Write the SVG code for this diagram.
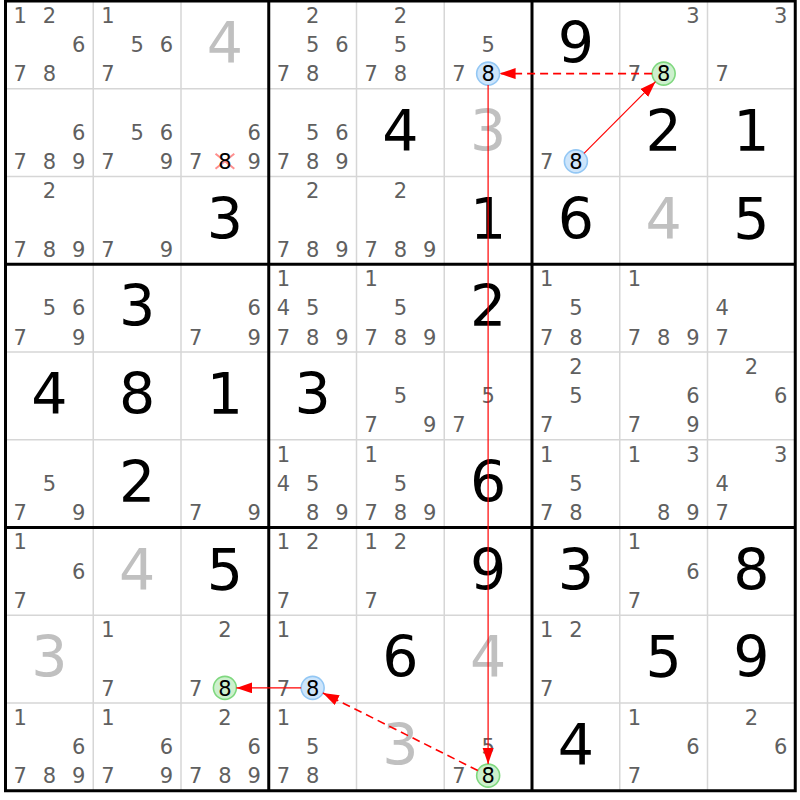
<svg xmlns="http://www.w3.org/2000/svg" width="800" height="800" viewBox="0 0 800 800">
<style>
text{font-family:"DejaVu Sans","Liberation Sans",sans-serif;text-anchor:middle}
.c{font-size:21px;fill:#606060}
.h{font-size:21px;fill:#000}
.g{font-size:57px;fill:#000}
.gg{font-size:57px;fill:#c0c0c0}
.thin{stroke:#d6d6d6;stroke-width:1.5}
.thick{stroke:#000;stroke-width:3}
.hb{fill:#cde5fb;stroke:#93c7f4;stroke-width:1.6}
.hg{fill:#cdf0cd;stroke:#7fd87f;stroke-width:1.6}
.lk{stroke:#ff0000;fill:none}
.sol{stroke-width:1.2}
.das{stroke-width:1.6;stroke-dasharray:8 5}
</style>
<defs>
<marker id="ah" markerUnits="userSpaceOnUse" markerWidth="17" markerHeight="12" refX="16" refY="5.5" orient="auto">
<path d="M0,0 L16,5.5 L0,11 z" fill="#ff0000"/>
</marker>
</defs>
<rect x="0" y="0" width="800" height="800" fill="#fff"/>
<g id="grid-thin">
<path class="thin" d="M93.25,1V790.75M181,1V790.75M356.5,1V790.75M444.25,1V790.75M619.75,1V790.75M707.5,1V790.75M5.5,88.75H795.25M5.5,176.5H795.25M5.5,352H795.25M5.5,439.75H795.25M5.5,615.25H795.25M5.5,703H795.25"/>
</g>
<g id="r0c0" transform="translate(5.5,1)"><text class="c" x="14.6" y="21.8">1</text><text class="c" x="43.9" y="21.8">2</text><text class="c" x="73.1" y="51.1">6</text><text class="c" x="14.6" y="80.3">7</text><text class="c" x="43.9" y="80.3">8</text></g>
<g id="r0c1" transform="translate(93.25,1)"><text class="c" x="14.6" y="21.8">1</text><text class="c" x="43.9" y="51.1">5</text><text class="c" x="73.1" y="51.1">6</text><text class="c" x="14.6" y="80.3">7</text></g>
<g id="r0c2" transform="translate(181,1)"><text class="gg" x="43.9" y="62">4</text></g>
<g id="r0c3" transform="translate(268.75,1)"><text class="c" x="43.9" y="21.8">2</text><text class="c" x="43.9" y="51.1">5</text><text class="c" x="73.1" y="51.1">6</text><text class="c" x="14.6" y="80.3">7</text><text class="c" x="43.9" y="80.3">8</text></g>
<g id="r0c4" transform="translate(356.5,1)"><text class="c" x="43.9" y="21.8">2</text><text class="c" x="43.9" y="51.1">5</text><text class="c" x="14.6" y="80.3">7</text><text class="c" x="43.9" y="80.3">8</text></g>
<g id="r0c5" transform="translate(444.25,1)"><text class="c" x="43.9" y="51.1">5</text><text class="c" x="14.6" y="80.3">7</text><circle class="hb" cx="43.9" cy="72.6" r="11.5"/><text class="h" x="43.9" y="80.3">8</text></g>
<g id="r0c6" transform="translate(532,1)"><text class="g" x="43.9" y="62">9</text></g>
<g id="r0c7" transform="translate(619.75,1)"><text class="c" x="73.1" y="21.8">3</text><text class="c" x="14.6" y="80.3">7</text><circle class="hg" cx="43.9" cy="72.6" r="11.5"/><text class="h" x="43.9" y="80.3">8</text></g>
<g id="r0c8" transform="translate(707.5,1)"><text class="c" x="73.1" y="21.8">3</text><text class="c" x="14.6" y="80.3">7</text></g>

<g id="r1c0" transform="translate(5.5,88.75)"><text class="c" x="73.1" y="51.1">6</text><text class="c" x="14.6" y="80.3">7</text><text class="c" x="43.9" y="80.3">8</text><text class="c" x="73.1" y="80.3">9</text></g>
<g id="r1c1" transform="translate(93.25,88.75)"><text class="c" x="43.9" y="51.1">5</text><text class="c" x="73.1" y="51.1">6</text><text class="c" x="14.6" y="80.3">7</text><text class="c" x="73.1" y="80.3">9</text></g>
<g id="r1c2" transform="translate(181,88.75)"><text class="c" x="73.1" y="51.1">6</text><text class="c" x="14.6" y="80.3">7</text><path d="M34.5,65 L53.3,80 M53.3,65 L34.5,80" stroke="#ff8f8f" stroke-width="2"/><text class="h" x="43.9" y="80.3">8</text><text class="c" x="73.1" y="80.3">9</text></g>
<g id="r1c3" transform="translate(268.75,88.75)"><text class="c" x="43.9" y="51.1">5</text><text class="c" x="73.1" y="51.1">6</text><text class="c" x="14.6" y="80.3">7</text><text class="c" x="43.9" y="80.3">8</text><text class="c" x="73.1" y="80.3">9</text></g>
<g id="r1c4" transform="translate(356.5,88.75)"><text class="g" x="43.9" y="62">4</text></g>
<g id="r1c5" transform="translate(444.25,88.75)"><text class="gg" x="43.9" y="62">3</text></g>
<g id="r1c6" transform="translate(532,88.75)"><text class="c" x="14.6" y="80.3">7</text><circle class="hb" cx="43.9" cy="72.6" r="11.5"/><text class="h" x="43.9" y="80.3">8</text></g>
<g id="r1c7" transform="translate(619.75,88.75)"><text class="g" x="43.9" y="62">2</text></g>
<g id="r1c8" transform="translate(707.5,88.75)"><text class="g" x="43.9" y="62">1</text></g>

<g id="r2c0" transform="translate(5.5,176.5)"><text class="c" x="43.9" y="21.8">2</text><text class="c" x="14.6" y="80.3">7</text><text class="c" x="43.9" y="80.3">8</text><text class="c" x="73.1" y="80.3">9</text></g>
<g id="r2c1" transform="translate(93.25,176.5)"><text class="c" x="14.6" y="80.3">7</text><text class="c" x="73.1" y="80.3">9</text></g>
<g id="r2c2" transform="translate(181,176.5)"><text class="g" x="43.9" y="62">3</text></g>
<g id="r2c3" transform="translate(268.75,176.5)"><text class="c" x="43.9" y="21.8">2</text><text class="c" x="14.6" y="80.3">7</text><text class="c" x="43.9" y="80.3">8</text><text class="c" x="73.1" y="80.3">9</text></g>
<g id="r2c4" transform="translate(356.5,176.5)"><text class="c" x="43.9" y="21.8">2</text><text class="c" x="14.6" y="80.3">7</text><text class="c" x="43.9" y="80.3">8</text><text class="c" x="73.1" y="80.3">9</text></g>
<g id="r2c5" transform="translate(444.25,176.5)"><text class="g" x="43.9" y="62">1</text></g>
<g id="r2c6" transform="translate(532,176.5)"><text class="g" x="43.9" y="62">6</text></g>
<g id="r2c7" transform="translate(619.75,176.5)"><text class="gg" x="43.9" y="62">4</text></g>
<g id="r2c8" transform="translate(707.5,176.5)"><text class="g" x="43.9" y="62">5</text></g>

<g id="r3c0" transform="translate(5.5,264.25)"><text class="c" x="43.9" y="51.1">5</text><text class="c" x="73.1" y="51.1">6</text><text class="c" x="14.6" y="80.3">7</text><text class="c" x="73.1" y="80.3">9</text></g>
<g id="r3c1" transform="translate(93.25,264.25)"><text class="g" x="43.9" y="62">3</text></g>
<g id="r3c2" transform="translate(181,264.25)"><text class="c" x="73.1" y="51.1">6</text><text class="c" x="14.6" y="80.3">7</text><text class="c" x="73.1" y="80.3">9</text></g>
<g id="r3c3" transform="translate(268.75,264.25)"><text class="c" x="14.6" y="21.8">1</text><text class="c" x="14.6" y="51.1">4</text><text class="c" x="43.9" y="51.1">5</text><text class="c" x="14.6" y="80.3">7</text><text class="c" x="43.9" y="80.3">8</text><text class="c" x="73.1" y="80.3">9</text></g>
<g id="r3c4" transform="translate(356.5,264.25)"><text class="c" x="14.6" y="21.8">1</text><text class="c" x="43.9" y="51.1">5</text><text class="c" x="14.6" y="80.3">7</text><text class="c" x="43.9" y="80.3">8</text><text class="c" x="73.1" y="80.3">9</text></g>
<g id="r3c5" transform="translate(444.25,264.25)"><text class="g" x="43.9" y="62">2</text></g>
<g id="r3c6" transform="translate(532,264.25)"><text class="c" x="14.6" y="21.8">1</text><text class="c" x="43.9" y="51.1">5</text><text class="c" x="14.6" y="80.3">7</text><text class="c" x="43.9" y="80.3">8</text></g>
<g id="r3c7" transform="translate(619.75,264.25)"><text class="c" x="14.6" y="21.8">1</text><text class="c" x="14.6" y="80.3">7</text><text class="c" x="43.9" y="80.3">8</text><text class="c" x="73.1" y="80.3">9</text></g>
<g id="r3c8" transform="translate(707.5,264.25)"><text class="c" x="14.6" y="51.1">4</text><text class="c" x="14.6" y="80.3">7</text></g>

<g id="r4c0" transform="translate(5.5,352)"><text class="g" x="43.9" y="62">4</text></g>
<g id="r4c1" transform="translate(93.25,352)"><text class="g" x="43.9" y="62">8</text></g>
<g id="r4c2" transform="translate(181,352)"><text class="g" x="43.9" y="62">1</text></g>
<g id="r4c3" transform="translate(268.75,352)"><text class="g" x="43.9" y="62">3</text></g>
<g id="r4c4" transform="translate(356.5,352)"><text class="c" x="43.9" y="51.1">5</text><text class="c" x="14.6" y="80.3">7</text><text class="c" x="73.1" y="80.3">9</text></g>
<g id="r4c5" transform="translate(444.25,352)"><text class="c" x="43.9" y="51.1">5</text><text class="c" x="14.6" y="80.3">7</text></g>
<g id="r4c6" transform="translate(532,352)"><text class="c" x="43.9" y="21.8">2</text><text class="c" x="43.9" y="51.1">5</text><text class="c" x="14.6" y="80.3">7</text></g>
<g id="r4c7" transform="translate(619.75,352)"><text class="c" x="73.1" y="51.1">6</text><text class="c" x="14.6" y="80.3">7</text><text class="c" x="73.1" y="80.3">9</text></g>
<g id="r4c8" transform="translate(707.5,352)"><text class="c" x="43.9" y="21.8">2</text><text class="c" x="73.1" y="51.1">6</text></g>

<g id="r5c0" transform="translate(5.5,439.75)"><text class="c" x="43.9" y="51.1">5</text><text class="c" x="14.6" y="80.3">7</text><text class="c" x="73.1" y="80.3">9</text></g>
<g id="r5c1" transform="translate(93.25,439.75)"><text class="g" x="43.9" y="62">2</text></g>
<g id="r5c2" transform="translate(181,439.75)"><text class="c" x="14.6" y="80.3">7</text><text class="c" x="73.1" y="80.3">9</text></g>
<g id="r5c3" transform="translate(268.75,439.75)"><text class="c" x="14.6" y="21.8">1</text><text class="c" x="14.6" y="51.1">4</text><text class="c" x="43.9" y="51.1">5</text><text class="c" x="43.9" y="80.3">8</text><text class="c" x="73.1" y="80.3">9</text></g>
<g id="r5c4" transform="translate(356.5,439.75)"><text class="c" x="14.6" y="21.8">1</text><text class="c" x="43.9" y="51.1">5</text><text class="c" x="14.6" y="80.3">7</text><text class="c" x="43.9" y="80.3">8</text><text class="c" x="73.1" y="80.3">9</text></g>
<g id="r5c5" transform="translate(444.25,439.75)"><text class="g" x="43.9" y="62">6</text></g>
<g id="r5c6" transform="translate(532,439.75)"><text class="c" x="14.6" y="21.8">1</text><text class="c" x="43.9" y="51.1">5</text><text class="c" x="14.6" y="80.3">7</text><text class="c" x="43.9" y="80.3">8</text></g>
<g id="r5c7" transform="translate(619.75,439.75)"><text class="c" x="14.6" y="21.8">1</text><text class="c" x="73.1" y="21.8">3</text><text class="c" x="43.9" y="80.3">8</text><text class="c" x="73.1" y="80.3">9</text></g>
<g id="r5c8" transform="translate(707.5,439.75)"><text class="c" x="73.1" y="21.8">3</text><text class="c" x="14.6" y="51.1">4</text><text class="c" x="14.6" y="80.3">7</text></g>

<g id="r6c0" transform="translate(5.5,527.5)"><text class="c" x="14.6" y="21.8">1</text><text class="c" x="73.1" y="51.1">6</text><text class="c" x="14.6" y="80.3">7</text></g>
<g id="r6c1" transform="translate(93.25,527.5)"><text class="gg" x="43.9" y="62">4</text></g>
<g id="r6c2" transform="translate(181,527.5)"><text class="g" x="43.9" y="62">5</text></g>
<g id="r6c3" transform="translate(268.75,527.5)"><text class="c" x="14.6" y="21.8">1</text><text class="c" x="43.9" y="21.8">2</text><text class="c" x="14.6" y="80.3">7</text></g>
<g id="r6c4" transform="translate(356.5,527.5)"><text class="c" x="14.6" y="21.8">1</text><text class="c" x="43.9" y="21.8">2</text><text class="c" x="14.6" y="80.3">7</text></g>
<g id="r6c5" transform="translate(444.25,527.5)"><text class="g" x="43.9" y="62">9</text></g>
<g id="r6c6" transform="translate(532,527.5)"><text class="g" x="43.9" y="62">3</text></g>
<g id="r6c7" transform="translate(619.75,527.5)"><text class="c" x="14.6" y="21.8">1</text><text class="c" x="73.1" y="51.1">6</text><text class="c" x="14.6" y="80.3">7</text></g>
<g id="r6c8" transform="translate(707.5,527.5)"><text class="g" x="43.9" y="62">8</text></g>

<g id="r7c0" transform="translate(5.5,615.25)"><text class="gg" x="43.9" y="62">3</text></g>
<g id="r7c1" transform="translate(93.25,615.25)"><text class="c" x="14.6" y="21.8">1</text><text class="c" x="14.6" y="80.3">7</text></g>
<g id="r7c2" transform="translate(181,615.25)"><text class="c" x="43.9" y="21.8">2</text><text class="c" x="14.6" y="80.3">7</text><circle class="hg" cx="43.9" cy="72.6" r="11.5"/><text class="h" x="43.9" y="80.3">8</text></g>
<g id="r7c3" transform="translate(268.75,615.25)"><text class="c" x="14.6" y="21.8">1</text><text class="c" x="14.6" y="80.3">7</text><circle class="hb" cx="43.9" cy="72.6" r="11.5"/><text class="h" x="43.9" y="80.3">8</text></g>
<g id="r7c4" transform="translate(356.5,615.25)"><text class="g" x="43.9" y="62">6</text></g>
<g id="r7c5" transform="translate(444.25,615.25)"><text class="gg" x="43.9" y="62">4</text></g>
<g id="r7c6" transform="translate(532,615.25)"><text class="c" x="14.6" y="21.8">1</text><text class="c" x="43.9" y="21.8">2</text><text class="c" x="14.6" y="80.3">7</text></g>
<g id="r7c7" transform="translate(619.75,615.25)"><text class="g" x="43.9" y="62">5</text></g>
<g id="r7c8" transform="translate(707.5,615.25)"><text class="g" x="43.9" y="62">9</text></g>

<g id="r8c0" transform="translate(5.5,703)"><text class="c" x="14.6" y="21.8">1</text><text class="c" x="73.1" y="51.1">6</text><text class="c" x="14.6" y="80.3">7</text><text class="c" x="43.9" y="80.3">8</text><text class="c" x="73.1" y="80.3">9</text></g>
<g id="r8c1" transform="translate(93.25,703)"><text class="c" x="14.6" y="21.8">1</text><text class="c" x="73.1" y="51.1">6</text><text class="c" x="14.6" y="80.3">7</text><text class="c" x="73.1" y="80.3">9</text></g>
<g id="r8c2" transform="translate(181,703)"><text class="c" x="43.9" y="21.8">2</text><text class="c" x="73.1" y="51.1">6</text><text class="c" x="14.6" y="80.3">7</text><text class="c" x="43.9" y="80.3">8</text><text class="c" x="73.1" y="80.3">9</text></g>
<g id="r8c3" transform="translate(268.75,703)"><text class="c" x="14.6" y="21.8">1</text><text class="c" x="43.9" y="51.1">5</text><text class="c" x="14.6" y="80.3">7</text><text class="c" x="43.9" y="80.3">8</text></g>
<g id="r8c4" transform="translate(356.5,703)"><text class="gg" x="43.9" y="62">3</text></g>
<g id="r8c5" transform="translate(444.25,703)"><text class="c" x="43.9" y="51.1">5</text><text class="c" x="14.6" y="80.3">7</text><circle class="hg" cx="43.9" cy="72.6" r="11.5"/><text class="h" x="43.9" y="80.3">8</text></g>
<g id="r8c6" transform="translate(532,703)"><text class="g" x="43.9" y="62">4</text></g>
<g id="r8c7" transform="translate(619.75,703)"><text class="c" x="14.6" y="21.8">1</text><text class="c" x="73.1" y="51.1">6</text><text class="c" x="14.6" y="80.3">7</text></g>
<g id="r8c8" transform="translate(707.5,703)"><text class="c" x="43.9" y="21.8">2</text><text class="c" x="73.1" y="51.1">6</text></g>

<g id="grid-thick">
<path class="thick" fill="none" d="M268.75,1V790.75M532,1V790.75M5.5,264.25H795.25M5.5,527.5H795.25"/>
<rect class="thick" fill="none" x="5.5" y="1" width="789.75" height="789.75"/>
</g>
<g id="connectors">
<line class="lk das" x1="652.1" y1="73.6" x2="499.6" y2="73.6" marker-end="url(#ah)"/>
<line class="lk sol" x1="584" y1="153.3" x2="655.5" y2="81.7" marker-end="url(#ah)"/>
<line class="lk sol" x1="488.1" y1="85.1" x2="488.1" y2="764.1" marker-end="url(#ah)"/>
<line class="lk das" x1="477.8" y1="770.5" x2="322.9" y2="693" marker-end="url(#ah)"/>
<line class="lk sol" x1="301.1" y1="687.9" x2="236.4" y2="687.9" marker-end="url(#ah)"/>
</g>
</svg>
